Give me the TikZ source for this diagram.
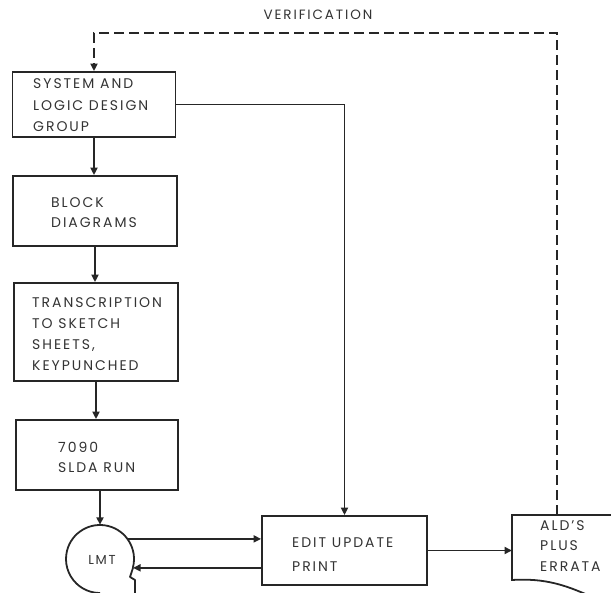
\documentclass[tikz,border=0pt]{standalone}
\usepackage{fontspec}
\setmainfont{Poppins}[LetterSpace=14]
\usetikzlibrary{arrows.meta}
\begin{document}
\begin{tikzpicture}[x=1pt,y=-1pt,
  ln/.style={line width=1.8pt,black!85},
  box/.style={draw,ln,rectangle,inner sep=0pt},
  arr/.style={ln,-{Triangle[length=7.5pt,width=7pt]}},
  txt/.style={anchor=west,align=left,inner sep=0pt,text=black!80,font=\fontsize{14}{21.5}\selectfont}]
\useasboundingbox (0,0) rectangle (611,593);
\clip (0,0) rectangle (611,593);
% boxes
\node[box,minimum width=163pt,minimum height=65pt] (b1) at (94,104.5) {};
\node[box,minimum width=164pt,minimum height=70pt] (b2) at (95,211) {};
\node[box,minimum width=164pt,minimum height=98pt] (b3) at (96,332) {};
\node[box,minimum width=162pt,minimum height=70pt] (b4) at (97,455) {};
\node[box,minimum width=165pt,minimum height=69pt] (ed) at (344.5,550.5) {};
\node[circle,minimum size=68pt,inner sep=0pt] (lmt) at (100,559) {};
\node[rectangle,minimum width=110pt,minimum height=65pt,inner sep=0pt,anchor=north west] (ald) at (512,515) {};
% texts
\node[txt] (t1) at (33,105.5) {SYSTEM AND\\LOGIC DESIGN\\GROUP};
\node[txt,font=\fontsize{14}{20}\selectfont] (t2) at (51,213) {BLOCK\\DIAGRAMS};
\node[txt,font=\fontsize{14}{21}\selectfont] (t3) at (32,334) {TRANSCRIPTION\\TO SKETCH\\SHEETS,\\KEYPUNCHED};
\node[txt,font=\fontsize{14}{20}\selectfont] (t4) at (58,457) {7090\\SLDA RUN};
\node[txt,font=\fontsize{14}{24}\selectfont] (t5) at (292,554.5) {EDIT UPDATE\\PRINT};
\node[txt,font=\fontsize{14}{20.5}\selectfont] (t6) at (540,546) {ALD'S\\PLUS\\ERRATA};
\node[txt,anchor=center,font=\fontsize{13.5}{15}\selectfont] (tv) at (318,15) {VERIFICATION};
\node[txt,anchor=center,font=\fontsize{13}{15}\selectfont] (tl) at (102,560) {LMT};
% LMT symbol (tape reel)
\draw[ln] (lmt.center) ++(14:34) arc[start angle=14,end angle=-270,radius=34];
\draw[ln,line join=round] (lmt.-14) -- (130,577) -- (135,580) -- (135,600);
% ALD document
\draw[ln] (ald.north east) -- (ald.north west) -- (ald.north west |- 0,580)
  .. controls (545,578) and (565,585) .. (590,596);
% connectors
\draw[arr] (b1.south) -- (b1.south |- b2.north);
\draw[arr] (b2.south) -- (b2.south |- b3.north);
\draw[arr] (b3.south) -- (b3.south |- b4.north);
\draw[arr] (b4.south -| lmt.north) -- (lmt.north);
\draw[arr] (b1.east) -| (ed.north);
\draw[arr] (lmt.36) -- (ed.west |- lmt.36);
\draw[arr] (ed.west |- lmt.-15) -- (lmt.-15);
\draw[arr] (ed.east) -- (ed.east -| ald.west);
\coordinate (dv) at (557,515);
\coordinate (dt) at (557,33);
\draw[arr,dash pattern=on 10pt off 5pt] (dv) -- (dt) -| (b1.north);
\end{tikzpicture}
\end{document}
